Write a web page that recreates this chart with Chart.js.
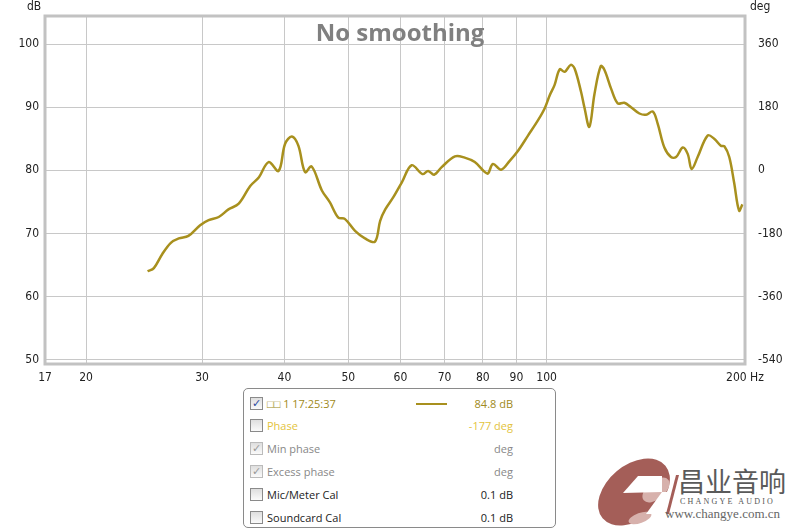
<!DOCTYPE html>
<html>
<head>
<meta charset="utf-8">
<script src="https://cdn.jsdelivr.net/npm/chart.js@4/dist/chart.umd.min.js"></script>
<style>
  body { margin: 0; background: #fff; width: 800px; height: 530px; position: relative; overflow: hidden; font-family: "Open Sans", sans-serif; }
  #chart { position: absolute; left: 0; top: 0; }
  #panel { position: absolute; left: 243px; top: 388px; width: 313px; height: 140px; border: 1px solid #8a8a8a; border-radius: 5px; box-sizing: border-box; }
  .row { position: absolute; left: 0; width: 100%; height: 16px; font-size: 11px; line-height: 16px; }
  .box { position: absolute; left: 6px; top: 1px; width: 11px; height: 11px; border: 1px solid #8a8a8a; background: linear-gradient(#dedede, #fafafa); font-size: 11px; line-height: 11px; text-align: center; font-family: "DejaVu Sans", sans-serif; }
  .lbl { position: absolute; left: 23px; top: 0; }
  .val { position: absolute; right: 42px; top: 0; }
  .swatch { position: absolute; left: 172px; top: 7px; width: 31px; height: 2px; background: #a8901e; }
  #logo { position: absolute; left: 590px; top: 450px; width: 210px; height: 80px; }
  .cn { position: absolute; left: 88px; top: 16px; font-family: "Noto Sans CJK SC", sans-serif; font-size: 27px; line-height: 30px; color: #5a5a5a; }
  .en { position: absolute; left: 90px; top: 47px; font-family: "Liberation Serif", serif; font-size: 8px; letter-spacing: 2.2px; color: #555; }
  .web { position: absolute; left: 75px; top: 56px; font-family: "Liberation Serif", serif; font-size: 13px; color: #666; }
</style>
</head>
<body>
<canvas id="chart" width="800" height="387"></canvas>

<div id="panel">
  <div class="row" style="top:7px"><span class="box" style="color:#2c4aa0">✓</span><span class="lbl" style="color:#a08a20">□□ 1 17:25:37</span><span class="swatch"></span><span class="val" style="color:#a08a20">84.8 dB</span></div>
  <div class="row" style="top:29px"><span class="box"></span><span class="lbl" style="color:#e3c33c">Phase</span><span class="val" style="color:#e3c33c">-177 deg</span></div>
  <div class="row" style="top:52px"><span class="box" style="color:#999;border-color:#bbb">✓</span><span class="lbl" style="color:#888">Min phase</span><span class="val" style="color:#888">deg</span></div>
  <div class="row" style="top:75px"><span class="box" style="color:#999;border-color:#bbb">✓</span><span class="lbl" style="color:#888">Excess phase</span><span class="val" style="color:#888">deg</span></div>
  <div class="row" style="top:98px"><span class="box"></span><span class="lbl" style="color:#222">Mic/Meter Cal</span><span class="val" style="color:#222">0.1 dB</span></div>
  <div class="row" style="top:121px"><span class="box"></span><span class="lbl" style="color:#222">Soundcard Cal</span><span class="val" style="color:#222">0.1 dB</span></div>
</div>

<div id="logo">
  <svg width="90" height="80" style="position:absolute;left:0;top:0">
    <ellipse cx="44" cy="42" rx="41" ry="27" transform="rotate(-40 44 42)" fill="#a45e58"/>
    <ellipse cx="66" cy="40" rx="16" ry="9" transform="rotate(-40 66 40)" fill="#d7b1ac"/>
    <ellipse cx="50" cy="68" rx="12" ry="5" transform="rotate(-20 50 68)" fill="#d7b1ac"/>
    <polygon points="33,43 48,26 72,26 72,42" fill="#fff"/>
    <polygon points="72,42 92,42 92,64 56,64" fill="#fff"/>
    <polygon points="76,64 86,25 89,25 79,64" fill="#a45e58"/>
  </svg>
  <div class="cn">昌业音响</div>
  <div class="en">CHANGYE AUDIO</div>
  <div class="web">www.changye.com.cn</div>
</div>

<script>
// frequency response
const freqHz = [24.8, 25.35, 26.1, 26.9, 27.66, 28.6, 29.8, 30.7, 31.8, 32.9, 34.1, 35.5, 36.6, 37.85, 39.2,
  40.1, 41.06, 42.0, 43.0, 44.0, 45.6, 46.9, 48.3, 49.4, 51.2, 53.0, 54.9, 55.9, 56.9, 58.5, 60.3, 62.4,
  64.8, 66.1, 67.5, 69.3, 72.6, 75.1, 77.8, 80.6, 81.5, 82.9, 85.3, 87.9, 90.5, 93.7, 97.0, 99.3, 101.1,
  102.8, 104.7, 106.5, 108.8, 110.3, 112.8, 114.1, 116.1, 118.2, 120.8, 122.4, 125.3, 128.2, 131.2, 134.3,
  138.3, 141.5, 144.9, 147.4, 150.9, 154.4, 157.2, 160.9, 163.7, 166.0, 169.5, 175.5, 179.6, 183.8, 186.1,
  189.3, 192.5, 195.9, 198.2];
const splDb = [64.0, 64.5, 66.7, 68.5, 69.2, 69.6, 71.3, 72.1, 72.6, 73.8, 74.7, 77.5, 78.9, 81.3, 79.9,
  84.2, 85.35, 83.9, 79.7, 80.6, 76.8, 74.9, 72.5, 72.3, 70.4, 69.2, 68.7, 72.0, 73.8, 75.7, 78.1, 80.8,
  79.4, 79.9, 79.3, 80.5, 82.2, 82.0, 81.3, 79.7, 79.5, 81.0, 80.1, 81.5, 83.1, 85.5, 87.9, 89.8, 91.9,
  93.5, 96.0, 95.6, 96.7, 96.1, 92.4, 90.0, 86.9, 92.1, 96.5, 95.9, 92.9, 90.6, 90.7, 90.0,
  89.0, 88.8, 89.3, 87.4, 83.6, 82.1, 82.1, 83.6, 82.6, 80.2, 82.1, 85.5, 85.0, 83.9, 83.8,
  82.1, 78.1, 73.6, 74.6];

const fMin = 17.33, fMax = 200;
const xTicks = [fMin, 20, 30, 40, 50, 60, 70, 80, 90, 100, 200];
const dbTicks = [50, 60, 70, 80, 90, 100];
const degTicks = [-540, -360, -180, 0, 180, 360];

const dbMin = 49.3, dbMax = 104.45;
// phase axis: 180 deg per 10 dB, 0 deg at 80 dB
const toDeg = v => (v - 80) * 18;

const tickFont = { family: '"DejaVu Sans Condensed", "DejaVu Sans", sans-serif', size: 12 };

const extras = {
  id: 'extras',
  afterDraw(chart) {
    const { ctx, chartArea: a } = chart;
    ctx.save();
    ctx.strokeStyle = '#c2c2c2';
    ctx.lineWidth = 3;
    ctx.strokeRect(a.left, a.top, a.right - a.left, a.bottom - a.top);
    ctx.fillStyle = '#808080';
    ctx.font = 'bold 24px "Open Sans", sans-serif';
    ctx.textAlign = 'center';
    ctx.textBaseline = 'middle';
    ctx.fillText('No smoothing', 400, 34);
    ctx.fillStyle = '#222';
    ctx.font = '12px "DejaVu Sans Condensed", sans-serif';
    ctx.textAlign = 'left';
    ctx.fillText('dB', 27, 7);
    ctx.fillText('deg', 750, 7);
    ctx.restore();
  }
};

new Chart(document.getElementById('chart'), {
  type: 'scatter',
  data: {
    datasets: [{
      data: freqHz.map((f, i) => ({ x: f, y: splDb[i] })),
      showLine: true,
      borderColor: '#a8901e',
      borderWidth: 2.5,
      pointRadius: 0,
      tension: 0.35,
      yAxisID: 'y'
    }]
  },
  options: {
    responsive: false,
    animation: false,
    layout: { padding: { top: 16, left: 0, right: 0, bottom: 0 } },
    plugins: { legend: { display: false }, tooltip: { enabled: false } },
    scales: {
      x: {
        type: 'logarithmic',
        min: fMin,
        max: fMax,
        afterBuildTicks: s => { s.ticks = xTicks.map(v => ({ value: v })); },
        afterFit: s => { s.height = 23; },
        grid: { color: '#c8c8c8', drawTicks: false },
        border: { display: false },
        ticks: {
          autoSkip: false, maxRotation: 0, padding: 7, color: '#222', font: tickFont,
          callback: v => v === fMin ? '17' : (v === 200 ? '200 Hz' : String(v))
        }
      },
      y: {
        position: 'left',
        min: dbMin,
        max: dbMax,
        afterBuildTicks: s => { s.ticks = dbTicks.map(v => ({ value: v })); },
        afterFit: s => { s.width = 45; },
        grid: { color: '#c8c8c8', drawTicks: false },
        border: { display: false },
        ticks: { padding: 6, color: '#222', font: tickFont }
      },
      y2: {
        position: 'right',
        min: toDeg(dbMin),
        max: toDeg(dbMax),
        afterBuildTicks: s => { s.ticks = degTicks.map(v => ({ value: v })); },
        afterFit: s => { s.width = 55; },
        grid: { display: false },
        border: { display: false },
        ticks: { padding: 5, color: '#222', font: tickFont }
      }
    }
  },
  plugins: [extras]
});
</script>
</body>
</html>
